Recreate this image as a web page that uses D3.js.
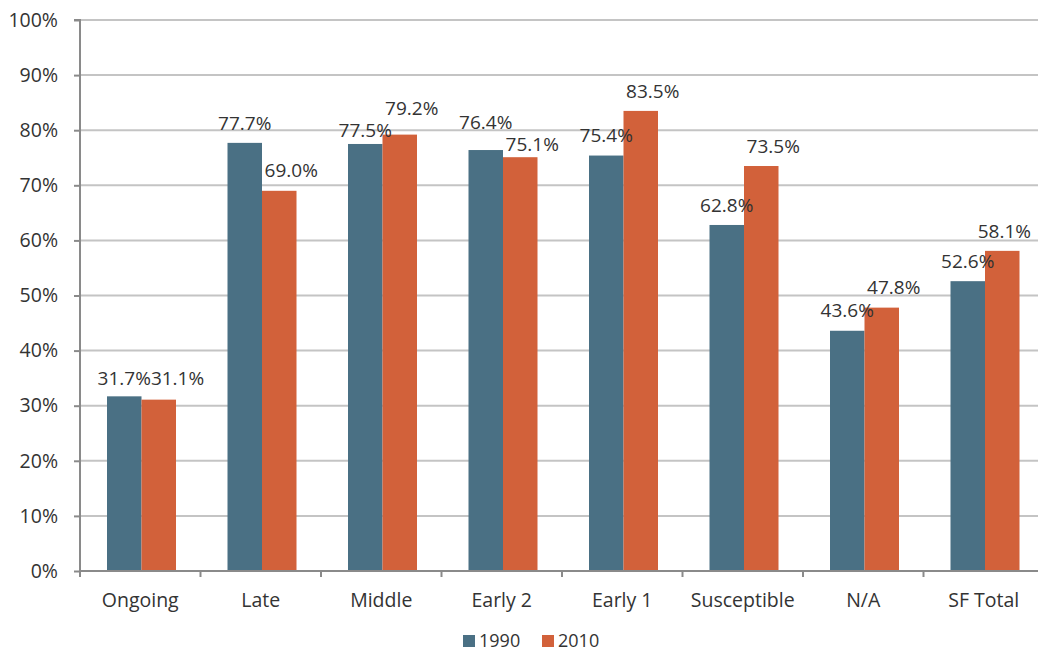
<!DOCTYPE html>
<html><head><meta charset="utf-8">
<script src="https://cdn.jsdelivr.net/npm/d3@7"></script>
<style>body{margin:0;background:#fff}svg{display:block}text{font-family:"Open Sans","Noto Sans",sans-serif}</style>
</head><body>
<svg id="c" width="1038" height="651"></svg>
<script>
const categories = ["Ongoing","Late","Middle","Early 2","Early 1","Susceptible","N/A","SF Total"];
const series = ["1990","2010"];
const values1990 = [31.7,77.7,77.5,76.4,75.4,62.8,43.6,52.6];
const values2010 = [31.1,69.0,79.2,75.1,83.5,73.5,47.8,58.1];
const yTicks = [0,10,20,30,40,50,60,70,80,90,100];
const colors = ["#4A7084","#D2613A"];

const svg = d3.select("#c");
const pL = 80, pR = 1044, pT = 20, pB = 571;
const FS = 19;
const x = d3.scaleBand().domain(categories).range([pL,pR]).paddingInner(0).paddingOuter(0);
const xi = d3.scaleBand().domain(series).range([27, 27+69]);
const y = d3.scaleLinear().domain([0,100]).range([pB, pT]);

// gridlines
svg.append("g").selectAll("line").data(yTicks.filter(d=>d>0)).join("line")
  .attr("x1", pL).attr("x2", 1038).attr("y1", d=>y(d)).attr("y2", d=>y(d))
  .attr("stroke","#c4c4c4").attr("stroke-width",2);

// y axis
const ya = svg.append("g").attr("transform",`translate(${pL},0)`)
  .call(d3.axisLeft(y).tickValues(yTicks).tickFormat(d=>d+"%").tickSize(6).tickPadding(16));
ya.select(".domain").attr("stroke","#8a8a8a").attr("stroke-width",2).attr("d",`M-6,${pT}H0V${pB}`);
ya.selectAll(".tick line").attr("stroke","#8a8a8a").attr("stroke-width",2);
ya.selectAll(".tick text").attr("font-size",19.5).attr("fill","#333");

// bars
const data = categories.map((c,i)=>({c, v:[values1990[i], values2010[i]]}));
const g = svg.append("g");
data.forEach(d=>{
  series.forEach((s,j)=>{
    g.append("rect").attr("x", x(d.c)+xi(s)).attr("width", xi.bandwidth())
      .attr("y", y(d.v[j])).attr("height", y(0)-y(d.v[j])).attr("fill", colors[j]);
  });
});

// x axis
const xa = svg.append("g").attr("transform",`translate(0,${pB})`)
  .call(d3.axisBottom(x).tickSize(0).tickPadding(22));
xa.select(".domain").attr("stroke","#8a8a8a").attr("stroke-width",2).attr("d",`M${pL},0H1038`);
xa.selectAll(".tick text").attr("font-size",19.5).attr("fill","#333");
svg.append("g").selectAll("line").data(categories).join("line")
  .attr("x1", d=>x(d)).attr("x2", d=>x(d)).attr("y1", pB).attr("y2", pB+6)
  .attr("stroke","#8a8a8a").attr("stroke-width",2);

// data labels with simple overlap avoidance
const lab = svg.append("g");
const maxRight = 1031;
data.forEach(d=>{
  const t = series.map((s,j)=> lab.append("text").attr("text-anchor","middle")
      .attr("font-size",FS).attr("fill","#333").text(d.v[j].toFixed(1)+"%"));
  const w = t.map(n=>n.node().getComputedTextLength());
  const cx = series.map((s,j)=> x(d.c)+xi(s)+xi.bandwidth()/2 + (j===1?12:0));
  const cy = d.v.map(v=> y(v)-20);
  const need = 22;
  if (Math.abs(d.v[0]-d.v[1]) < 1) {
    const m = (cy[0]+cy[1])/2; cy[0]=m; cy[1]=m;
    const minC = cx[0] + w[0]/2 + w[1]/2;
    if (cx[1] < minC) cx[1] = minC;
  } else if (Math.abs(cy[0]-cy[1]) < need) {
    const m = (cy[0]+cy[1])/2, hi = d.v[0] > d.v[1] ? 0 : 1;
    cy[hi] = m - need/2; cy[1-hi] = m + need/2;
  }
  cx.forEach((c,j)=>{ if (c + w[j]/2 > maxRight) cx[j] = maxRight - w[j]/2; });
  t.forEach((n,j)=> n.attr("x", cx[j]).attr("y", cy[j]).attr("dy","0.35em"));
});

// legend
const lg = svg.append("g");
const lx = [463, 542];
series.forEach((s,j)=>{
  lg.append("rect").attr("x", lx[j]).attr("y", 635).attr("width",12).attr("height",12).attr("fill",colors[j]);
  lg.append("text").attr("x", lx[j]+16).attr("y", 646.5).attr("font-size",18).attr("fill","#333").text(s);
});
</script>
</body></html>
